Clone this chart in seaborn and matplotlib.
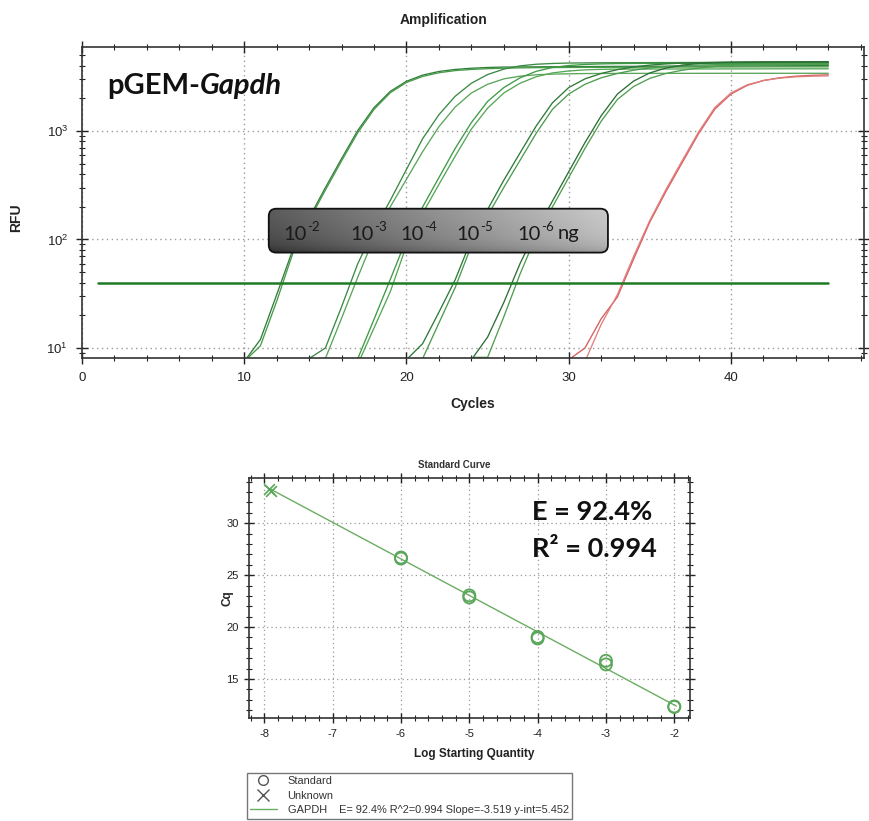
import numpy as np
import pandas as pd
import matplotlib
matplotlib.use("Agg")
import matplotlib.pyplot as plt
import seaborn as sns
from matplotlib.patches import FancyBboxPatch
from matplotlib.lines import Line2D
from matplotlib.ticker import MultipleLocator, LogLocator, NullFormatter

# ---------------- data: amplification curves (RFU per cycle) ----------------
a1_start = 10
a1_rfu = [7.5, 12, 31, 81, 158, 300, 556, 1012, 1640, 2317, 2870, 3273, 3532, 3690, 3785, 3846,
          3880, 3890, 3900, 3908, 3915, 3922, 3930, 3936, 3942, 3947, 3952, 3957, 3962, 3967,
          3972, 3977, 3982, 3987, 3992, 3996, 4000]
a2_start = 10
a2_rfu = [7.5, 10.5, 27, 75, 150, 285, 530, 965, 1580, 2250, 2800, 3180, 3440, 3600, 3690, 3750,
          3790, 3815, 3830, 3840, 3848, 3855, 3860, 3865, 3870, 3874, 3878, 3882, 3886, 3890,
          3893, 3896, 3898, 3900, 3900, 3900, 3900]
b1_start = 14
b1_rfu = [8, 10, 24, 60, 123, 229, 443, 851, 1413, 2089, 2754, 3311, 3715, 3981, 4121, 4188,
          4227, 4240, 4248, 4255, 4260, 4265, 4270, 4274, 4278, 4282, 4286, 4290, 4293, 4296,
          4298, 4300, 4300]
b2_start = 15
b2_rfu = [8, 18.8, 45, 104, 200, 359, 646, 1096, 1660, 2239, 2692, 3020, 3199, 3296, 3342, 3365,
          3381, 3388, 3392, 3394, 3395, 3396, 3397, 3398, 3399, 3400, 3400, 3400, 3400, 3400,
          3400, 3400]
c1_start = 17
c1_rfu = [8, 18.4, 42.8, 101, 200, 372, 690, 1197, 1871, 2512, 3090, 3548, 3846, 4009, 4102,
          4150, 4178, 4190, 4195, 4198, 4200, 4200, 4200, 4200, 4200, 4200, 4200, 4200, 4200,
          4200]
c2_start = 17
c2_rfu = [7.1, 15.3, 33, 88, 175, 322, 585, 1042, 1622, 2239, 2754, 3162, 3428, 3573, 3656,
          3698, 3715, 3720, 3722, 3724, 3726, 3728, 3730, 3732, 3734, 3736, 3738, 3740, 3740,
          3740]
d1_start = 20
d1_rfu = [7.8, 11, 21.4, 42.4, 100, 189, 352, 628, 1114, 1820, 2512, 3020, 3388, 3673, 3890,
          4046, 4150, 4217, 4256, 4276, 4285, 4290, 4294, 4297, 4299, 4300, 4300]
d2_start = 21
d2_rfu = [8, 17, 36, 87.5, 166, 302, 537, 955, 1585, 2188, 2692, 3090, 3388, 3631, 3802, 3926,
          4009, 4055, 4083, 4095, 4100, 4100, 4100, 4100, 4100, 4100]
e1_start = 24
e1_rfu = [7.8, 12.6, 26.3, 60, 122, 226, 421, 780, 1380, 2188, 2884, 3428, 3802, 4046, 4188,
          4266, 4305, 4325, 4335, 4342, 4346, 4349, 4350]
e2_start = 24
e2_rfu = [8.2, 8.2, 19.4, 48, 109, 200, 372, 690, 1230, 1950, 2570, 3055, 3388, 3631, 3802,
          3936, 4027, 4083, 4121, 4140, 4148, 4150, 4150]
r1_start = 30
r1_rfu = [7.8, 10, 18.6, 29.5, 66, 145, 278, 512, 942, 1585, 2188, 2630, 2917, 3090, 3199,
          3258, 3289]
r2_start = 31
r2_rfu = [7.5, 16.5, 31, 70, 150, 290, 535, 977, 1641, 2239, 2661, 2917, 3069, 3155, 3199,
          3221]

threshold_rfu = 40
threshold_cycles = [1, 46]

box_bases = ["10", "10", "10", "10", "10"]
box_exps = ["-2", "-3", "-4", "-5", "-6"]
box_unit = "ng"

# ---------------- data: standard curve ----------------
std_logq = [-6, -6, -5, -5, -4, -4, -3, -3, -2, -2]
std_cq = [26.6, 26.7, 23.05, 22.85, 19.05, 18.9, 16.75, 16.4, 12.3, 12.35]
unk_logq = [-7.93, -7.9]
unk_cq = [33.3, 33.1]
fit_slope = -3.519
fit_yint = 5.452
fit_range = [-7.92, -1.97]

# ---------------- styling ----------------
sns.set_theme(style="white")
plt.rcParams["font.family"] = ["Liberation Sans", "DejaVu Sans"]
plt.rcParams["mathtext.default"] = "regular"
plt.rcParams["axes.unicode_minus"] = False

W, H = 870, 821
fig = plt.figure(figsize=(W / 100, H / 100), dpi=100)
fig.patch.set_facecolor("white")


def fx(px):
    return px / W


def fy(py):
    return 1 - py / H


# ---------------- top: amplification ----------------
ax = fig.add_axes([fx(82), fy(358), fx(864) - fx(82), fy(47) - fy(358)])

curves = [
    ("a1", a1_start, a1_rfu, "#2f7f3a"), ("a2", a2_start, a2_rfu, "#4a9a4a"),
    ("b1", b1_start, b1_rfu, "#3b8a44"), ("b2", b2_start, b2_rfu, "#5aa55a"),
    ("c1", c1_start, c1_rfu, "#3e9a45"), ("c2", c2_start, c2_rfu, "#55a855"),
    ("d1", d1_start, d1_rfu, "#2e7a38"), ("d2", d2_start, d2_rfu, "#4c9c50"),
    ("e1", e1_start, e1_rfu, "#2c6e36"), ("e2", e2_start, e2_rfu, "#4f9f4f"),
    ("r1", r1_start, r1_rfu, "#d65c5c"), ("r2", r2_start, r2_rfu, "#e07e7c"),
]
frames = []
palette = {}
for name, start, vals, col in curves:
    frames.append(pd.DataFrame({"cycle": np.arange(start, start + len(vals)),
                                "rfu": vals, "curve": name}))
    palette[name] = col
df = pd.concat(frames, ignore_index=True)

sns.lineplot(data=df, x="cycle", y="rfu", hue="curve", palette=palette, estimator=None,
             sort=False, legend=False, lw=0.95, ax=ax)
thr = pd.DataFrame({"cycle": threshold_cycles, "rfu": [threshold_rfu] * 2})
sns.lineplot(data=thr, x="cycle", y="rfu", color="#1f7a24", lw=1.8, ax=ax)

ax.set_yscale("log")
ax.set_xlim(0, 48.2)
ax.set_ylim(8.09, 5940)
ax.set_xticks([0, 10, 20, 30, 40])
ax.xaxis.set_minor_locator(MultipleLocator(2))
ax.yaxis.set_major_locator(LogLocator(base=10, numticks=10))
ax.yaxis.set_minor_locator(LogLocator(base=10, subs=np.arange(2, 10), numticks=20))
ax.yaxis.set_minor_formatter(NullFormatter())
ax.grid(True, which="major", color="#9a9a9a", ls=(0, (1, 2.5)), lw=1.0)
ax.tick_params(axis="both", which="major", direction="inout", length=8, width=1,
               labelsize=9.5, colors="#222", bottom=True, left=True, top=True, right=True,
               pad=6)
ax.tick_params(axis="both", which="minor", direction="inout", length=5, width=0.8,
               bottom=True, left=True, top=True, right=True, colors="#222")
for s in ax.spines.values():
    s.set_color("#333")
    s.set_linewidth(1.2)
ax.set_xlabel("")
ax.set_ylabel("")

fig.text(fx(444), fy(20), "Amplification", ha="center", va="center", fontsize=10,
         fontweight="bold", color="#222")
fig.text(fx(473), fy(404), "Cycles", ha="center", va="center", fontsize=10,
         fontweight="bold", color="#222")
fig.text(fx(16), fy(218), "RFU", ha="center", va="center", rotation=90, fontsize=10,
         fontweight="bold", color="#222")

fig.canvas.draw()
r = fig.canvas.get_renderer()

# pGEM-Gapdh label
t1 = fig.text(fx(107), fy(94), "pGEM-", ha="left", va="baseline", fontsize=21,
              fontweight="bold", family=["Lato", "DejaVu Sans"], color="#111")
bb = t1.get_window_extent(renderer=r)
fig.text(bb.x1 / W, fy(94), "Gapdh", ha="left", va="baseline", fontsize=21,
         fontweight="bold", style="italic", family=["Lato", "DejaVu Sans"], color="#111")

# gradient label box
bl, br, bt, bbm = 266.7, 610, 207.3, 254
axb = fig.add_axes([fx(bl), fy(bbm), fx(br) - fx(bl), fy(bt) - fy(bbm)])
axb.set_xlim(0, 1)
axb.set_ylim(0, 1)
axb.axis("off")
axb.patch.set_alpha(0)
gx = np.linspace(0, 1, 300)
gy = np.linspace(0, 1, 60)
GX, GY = np.meshgrid(gx, gy)
grad = 0.28 + 0.44 * GX + 0.08 * GY - 0.12 * (1 - GY) ** 6
asp = (br - bl) / (bbm - bt)
patch = FancyBboxPatch((0.006, 0.03), 0.988, 0.94,
                       boxstyle="round,pad=0,rounding_size=0.022",
                       mutation_aspect=asp, fc="none", ec="#111", lw=1.3,
                       transform=axb.transData)
im = axb.imshow(grad, extent=[0, 1, 0, 1], origin="lower", cmap="gray", vmin=0, vmax=1,
                aspect="auto", interpolation="bilinear")
axb.add_patch(patch)
im.set_clip_path(patch)

box_x = [283.3, 350.7, 400, 456, 517]
box_base_y = 239.5
for base, ex, px in zip(box_bases, box_exps, box_x):
    tb = fig.text(fx(px), fy(box_base_y), base, ha="left", va="baseline", fontsize=14.5,
                  family=["Lato", "DejaVu Sans"], color="#1a1a1a", zorder=10)
    e = tb.get_window_extent(renderer=r)
    fig.text((e.x1 + 0.5) / W, fy(box_base_y - 8.5), ex, ha="left", va="baseline",
             fontsize=9.5, family=["Lato", "DejaVu Sans"], color="#1a1a1a", zorder=10)
fig.text(fx(558), fy(box_base_y), box_unit, ha="left", va="baseline", fontsize=14.5,
         family=["Lato", "DejaVu Sans"], color="#1a1a1a", zorder=10)

# ---------------- bottom: standard curve ----------------
ax2 = fig.add_axes([fx(249.3), fy(718.3), fx(690) - fx(249.3), fy(478.3) - fy(718.3)])
green = "#5aa65a"
fit_df = pd.DataFrame({"x": fit_range, "y": [fit_slope * v + fit_yint for v in fit_range]})
sns.lineplot(data=fit_df, x="x", y="y", color="#6aae62", lw=1.0, ax=ax2)
sns.scatterplot(x=std_logq, y=std_cq, marker="o", s=75, facecolors="none",
                edgecolor=green, linewidth=1.3, ax=ax2, zorder=5)
sns.scatterplot(x=unk_logq, y=unk_cq, marker="x", s=60, color=green, linewidth=1.2,
                ax=ax2, zorder=5)
for c in ax2.collections[:1]:
    c.set_facecolor("none")

ax2.set_xlim(-8.22, -1.77)
ax2.set_ylim(11.21, 34.33)
ax2.set_xticks([-8, -7, -6, -5, -4, -3, -2])
ax2.set_yticks([15, 20, 25, 30])
ax2.xaxis.set_minor_locator(MultipleLocator(0.2))
ax2.yaxis.set_minor_locator(MultipleLocator(1))
ax2.grid(True, which="major", color="#9a9a9a", ls=(0, (1, 2.5)), lw=0.9)
ax2.tick_params(axis="both", which="major", direction="inout", length=7, width=1,
                labelsize=8, colors="#222", bottom=True, left=True, top=True, right=True,
                pad=4)
ax2.tick_params(axis="both", which="minor", direction="inout", length=4, width=0.8,
                bottom=True, left=True, top=True, right=True, colors="#222")
for s in ax2.spines.values():
    s.set_color("#333")
    s.set_linewidth(1.2)
ax2.set_xlabel("")
ax2.set_ylabel("")

fig.text(fx(454), fy(465), "Standard Curve", ha="center", va="center", fontsize=7,
         fontweight="bold", color="#333")
fig.text(fx(474), fy(754), "Log Starting Quantity", ha="center", va="center", fontsize=8.5,
         fontweight="bold", color="#222")
fig.text(fx(228), fy(598), "Cq", ha="center", va="center", rotation=90, fontsize=8.5,
         fontweight="bold", color="#222")

fig.text(fx(532), fy(520), "E = 92.4%", ha="left", va="baseline", fontsize=19.5,
         fontweight="bold", family=["Lato", "DejaVu Sans"], color="#111")
fig.text(fx(532), fy(556.7), "R\u00b2 = 0.994", ha="left", va="baseline", fontsize=19.5,
         fontweight="bold", family=["Lato", "DejaVu Sans"], color="#111")

handles = [
    Line2D([], [], marker="o", ls="none", mfc="none", mec="#555", ms=7, mew=1),
    Line2D([], [], marker="x", ls="none", mec="#555", ms=8.5, mew=1),
    Line2D([], [], color="#6aae62", lw=1.0),
]
labels = ["Standard", "Unknown", "GAPDH    E= 92.4% R^2=0.994 Slope=-3.519 y-int=5.452"]
leg = fig.legend(handles, labels, loc="upper left", bbox_to_anchor=(fx(247), fy(772.7)),
                 frameon=True, fancybox=False, edgecolor="#555", fontsize=7.9,
                 handlelength=2.4, handletextpad=1.0, labelspacing=0.42, borderpad=0.3,
                 borderaxespad=0)
leg.get_frame().set_linewidth(1.0)
for t in leg.get_texts():
    t.set_color("#333")

fig.savefig("out.png", dpi=100, facecolor="white")
